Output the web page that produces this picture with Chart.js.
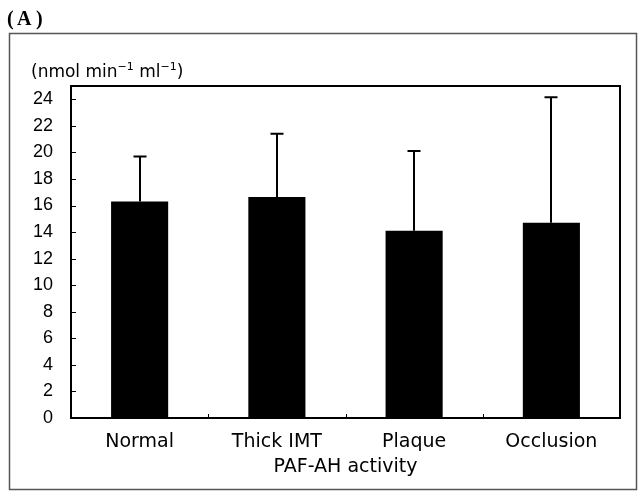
<!DOCTYPE html>
<html>
<head>
<meta charset="utf-8">
<title>PAF-AH activity</title>
<script src="https://cdn.jsdelivr.net/npm/chart.js@4"></script>
<style>
    html, body { margin: 0; padding: 0; background: #fff; }
    canvas { display: block; }
</style>
</head>
<body>
<canvas id="graficoPafAh" width="638" height="492"></canvas>
<script>
// Dados do gráfico
const grupos = ['Normal', 'Thick IMT', 'Plaque', 'Occlusion'];
const medias = [16.3, 16.65, 14.1, 14.7];
const limiteSuperior = [19.7, 21.4, 20.1, 24.15];   // média + DP
const ticksY = [0, 2, 4, 6, 8, 10, 12, 14, 16, 18, 20, 22, 24];

// Escreve texto com expoentes, peça por peça
function textoComExpoente(ctx, partes, x, yBase) {
    let cx = x;
    partes.forEach(p => {
        ctx.font = p.sup
            ? '11px "DejaVu Sans", sans-serif'
            : '17px "DejaVu Sans", sans-serif';
        ctx.fillText(p.t, cx, p.sup ? yBase - 7 : yBase);
        cx += ctx.measureText(p.t).width;
    });
}

// Moldura, títulos e barras de erro
const molduraPlugin = {
    id: 'moldura',
    afterDraw(chart) {
        const ctx = chart.ctx;
        const area = chart.chartArea;
        const x = chart.scales.x;
        const y = chart.scales.y;
        ctx.save();

        // Caixa externa
        ctx.strokeStyle = '#555';
        ctx.lineWidth = 1.5;
        ctx.strokeRect(9.5, 33.5, 627, 456);

        // (A)
        ctx.fillStyle = '#000';
        ctx.font = 'bold 20px "Liberation Serif", "DejaVu Serif", serif';
        ctx.textBaseline = 'alphabetic';
        ctx.textAlign = 'left';
        ctx.fillText('(', 7, 25);
        ctx.fillText('A', 17, 25);
        ctx.fillText(')', 36, 25);

        // Unidade do eixo Y
        textoComExpoente(ctx, [
            { t: '(nmol min' },
            { t: '\u22121', sup: true },
            { t: ' ml' },
            { t: '\u22121', sup: true },
            { t: ')' }
        ], 31, 77);

        // Barras de erro (só para cima)
        ctx.strokeStyle = '#000';
        ctx.lineWidth = 2;
        grupos.forEach((g, i) => {
            const cx = Math.round(x.getPixelForValue(i));
            const yBase = y.getPixelForValue(medias[i]);
            const yTopo = y.getPixelForValue(limiteSuperior[i]);
            ctx.beginPath();
            ctx.moveTo(cx, yBase);
            ctx.lineTo(cx, yTopo);
            ctx.moveTo(cx - 6.5, yTopo);
            ctx.lineTo(cx + 6.5, yTopo);
            ctx.stroke();
        });

        // Marcas internas do eixo Y
        ctx.lineWidth = 1;
        ticksY.forEach(v => {
            const py = Math.round(y.getPixelForValue(v)) + 0.5;
            ctx.beginPath();
            ctx.moveTo(area.left, py);
            ctx.lineTo(area.left + 5, py);
            ctx.stroke();
        });

        // Marcas entre categorias
        for (let i = 0; i < grupos.length - 1; i++) {
            const px = Math.round((x.getPixelForValue(i) + x.getPixelForValue(i + 1)) / 2) + 0.5;
            ctx.beginPath();
            ctx.moveTo(px, area.bottom);
            ctx.lineTo(px, area.bottom - 4);
            ctx.stroke();
        }

        // Moldura da área do gráfico
        ctx.lineWidth = 2;
        ctx.strokeRect(area.left, area.top, area.right - area.left, area.bottom - area.top);
        ctx.restore();
    }
};

const ctxPafAh = document.getElementById('graficoPafAh').getContext('2d');
const graficoPafAh = new Chart(ctxPafAh, {
    type: 'bar',
    data: {
        labels: grupos,
        datasets: [
            {
                label: 'PAF-AH activity',
                data: medias,
                backgroundColor: '#000',
                borderWidth: 0,
                barPercentage: 0.416,
                categoryPercentage: 1.0
            }
        ]
    },
    options: {
        responsive: false,
        devicePixelRatio: 1,
        animation: false,
        layout: {
            padding: { top: 86, right: 18, left: 0, bottom: 0 }
        },
        plugins: {
            legend: { display: false },
            tooltip: { enabled: false }
        },
        scales: {
            x: {
                grid: { display: false, drawTicks: false },
                border: { display: false },
                ticks: {
                    color: '#000',
                    font: { family: '"DejaVu Sans", sans-serif', size: 19 },
                    padding: 13,
                    maxRotation: 0,
                    autoSkip: false
                },
                title: {
                    display: true,
                    text: 'PAF-AH activity',
                    color: '#000',
                    font: { family: '"DejaVu Sans", sans-serif', size: 19 },
                    padding: { top: 0, bottom: 14 }
                },
                afterFit(scale) {
                    scale.height = 74;
                }
            },
            y: {
                min: 0,
                max: 25,
                grid: { display: false, drawTicks: false },
                border: { display: false },
                ticks: {
                    color: '#000',
                    font: { family: '"Liberation Sans", Arial, sans-serif', size: 18 },
                    padding: 18
                },
                afterBuildTicks(scale) {
                    scale.ticks = ticksY.map(v => ({ value: v }));
                },
                afterFit(scale) {
                    scale.width = 71;
                }
            }
        }
    },
    plugins: [molduraPlugin]
});
</script>
</body>
</html>
